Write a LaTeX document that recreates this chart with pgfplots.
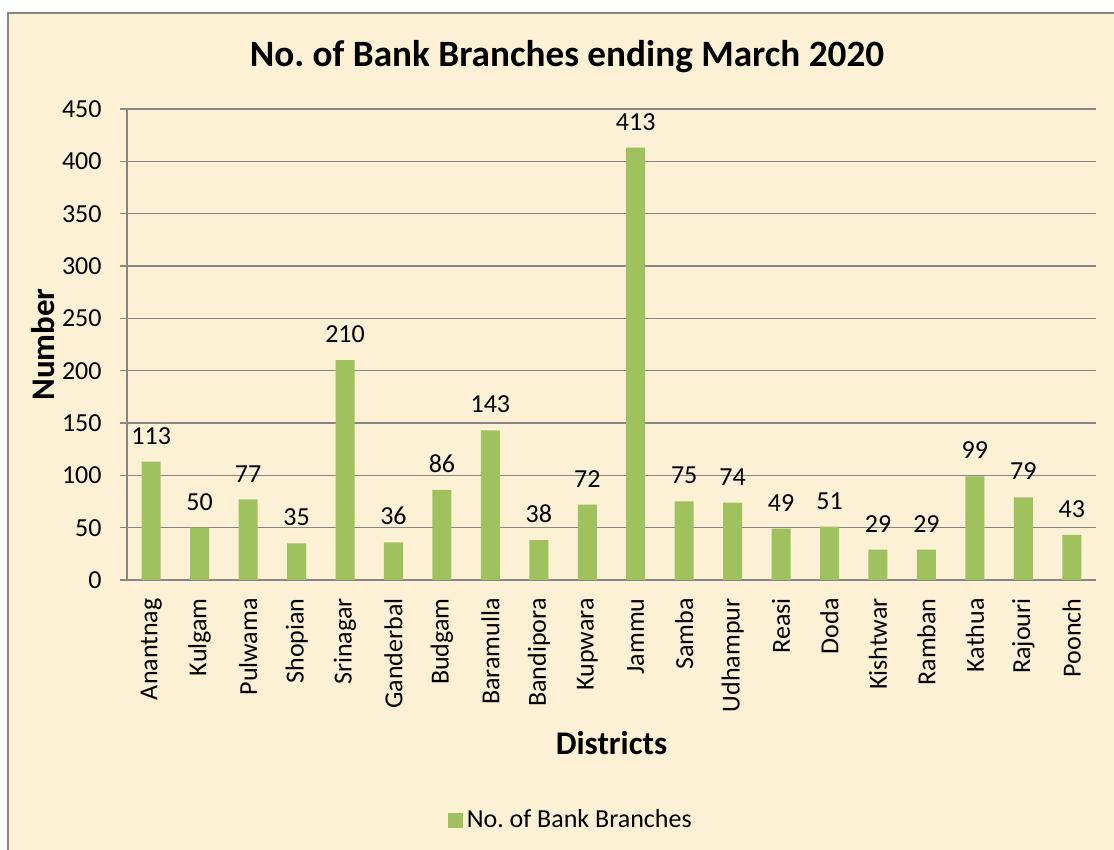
\documentclass[border=0pt]{standalone}
\usepackage{pgfplots}
\pgfplotsset{compat=1.18}
\usepackage{fontspec}
\setmainfont{Carlito}
\frenchspacing
\definecolor{paper}{RGB}{252,240,213}
\definecolor{barfill}{RGB}{159,194,95}
\definecolor{gridgray}{RGB}{134,134,134}
\newcommand{\lbl}{\fontsize{13bp}{15bp}\selectfont}

\begin{document}
\begin{tikzpicture}[x=0.5bp,y=0.5bp]
\clip (0,0) rectangle (1114,850);
\fill[white] (0,0) rectangle (1114,850);
\filldraw[fill=paper, draw=gridgray, line width=1bp] (8,-20) rectangle (1140,837);
\node[font=\fontsize{18.6bp}{21bp}\selectfont\bfseries] at (567,793) {No. of Bank Branches ending March 2020};
\coordinate (O) at (127,270);
\begin{axis}[
  at={(O)}, anchor=south west,
  scale only axis,
  width=484.5bp, height=235.5bp,
  ybar, bar width=9.5bp,
  xmin=-0.5, xmax=19.5,
  ymin=0, ymax=450,
  ytick distance=50,
  xtick=data,
  xticklabels={Anantnag,Kulgam,Pulwama,Shopian,Srinagar,Ganderbal,Budgam,Baramulla,Bandipora,Kupwara,Jammu,Samba,Udhampur,Reasi,Doda,Kishtwar,Ramban,Kathua,Rajouri,Poonch},
  axis x line*=bottom, axis y line*=left,
  axis line style={gridgray, line width=0.75bp},
  ymajorgrids,
  grid style={gridgray, line width=0.75bp},
  tick align=outside,
  major tick length=3.5bp,
  ytick style={gridgray, line width=0.75bp},
  xtick style={draw=none},
  /pgf/number format/assume math mode=true,
  ticklabel style={font=\lbl},
  yticklabel style={inner sep=0pt, anchor=east},
  yticklabel shift=9bp,
  xticklabel style={rotate=90, anchor=east, inner sep=0pt},
  xticklabel shift=5.5bp,
  xlabel={Districts},
  ylabel={Number},
  xlabel style={font=\fontsize{16.5bp}{19bp}\selectfont\bfseries, at={(axis description cs:0.5,-0.346)}, anchor=center},
  ylabel style={font=\fontsize{16.5bp}{19bp}\selectfont\bfseries, at={(axis description cs:-0.0867,0.5)}, anchor=center},
  nodes near coords,
  nodes near coords style={font=\lbl, anchor=south, inner sep=0pt, yshift=8.5bp, text=black},
  legend style={at={(axis description cs:0.459,-0.51)}, anchor=center, draw=none, fill=none, font=\lbl},
  legend image code/.code={\fill[barfill] (0bp,-3.75bp) rectangle (7.5bp,3.75bp);},
]
\addplot[fill=barfill, draw=none] coordinates {
(0,113) (1,50) (2,77) (3,35) (4,210) (5,36) (6,86) (7,143) (8,38) (9,72)
(10,413) (11,75) (12,74) (13,49) (14,51) (15,29) (16,29) (17,99) (18,79) (19,43)
};
\legend{No. of Bank Branches}
\end{axis}
\end{tikzpicture}
\end{document}
